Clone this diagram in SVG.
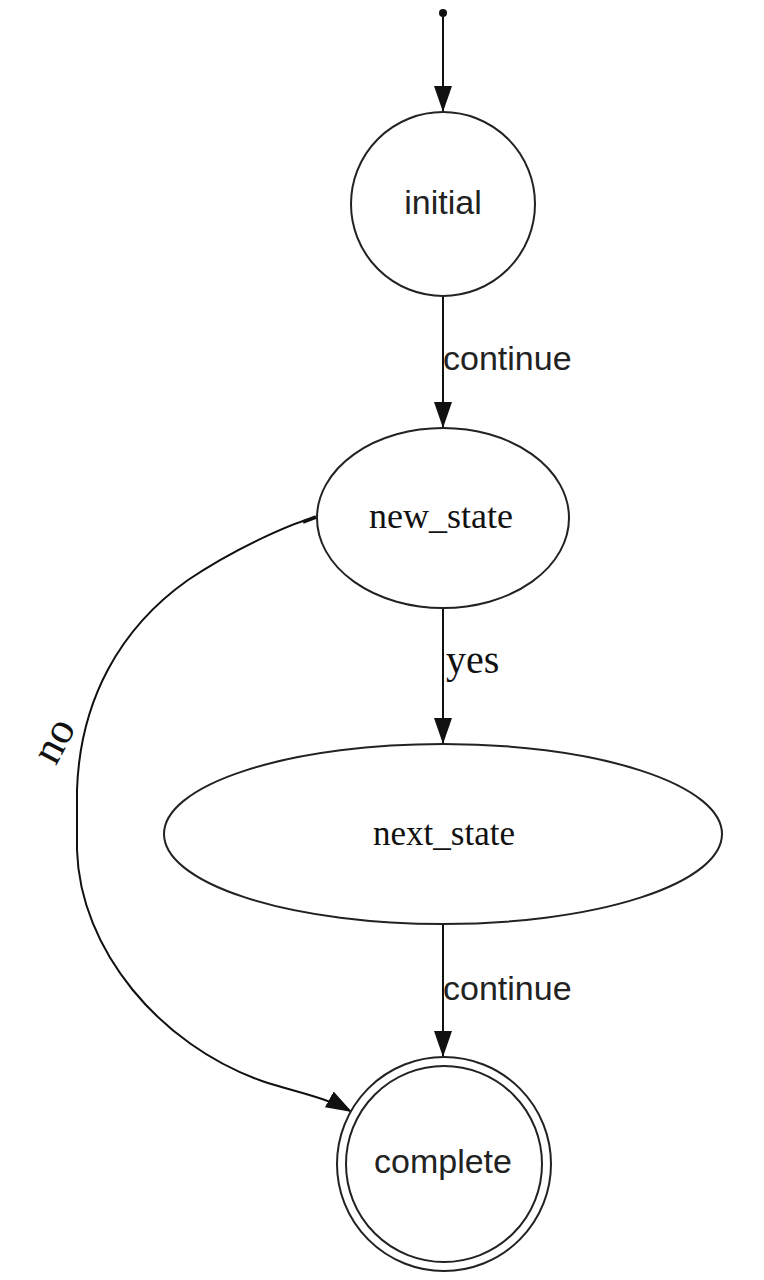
<svg xmlns="http://www.w3.org/2000/svg" width="764" height="1280" viewBox="0 0 764 1280">
<style>
.node{fill:#fff;stroke:#222;stroke-width:2}
.edge{fill:none;stroke:#111;stroke-width:2}
.sans{font-family:"Liberation Sans",Arial,sans-serif;font-size:34px;fill:#222}
.serif{font-family:"Liberation Serif","Times New Roman",serif;fill:#111}
</style>
<defs>
<marker id="arr" markerUnits="userSpaceOnUse" markerWidth="28" markerHeight="20" refX="26" refY="9" orient="auto">
<path d="M0,0 L26,9 L0,18 z" fill="#111"/>
</marker>
</defs>
<g id="connectors">
<circle cx="443" cy="13" r="4" fill="#111"/>
<line class="edge" x1="443" y1="13" x2="443" y2="112" marker-end="url(#arr)"/>
<line class="edge" x1="443" y1="297" x2="443" y2="428" marker-end="url(#arr)"/>
<text class="sans" x="443" y="370">continue</text>
<line class="edge" x1="443" y1="608" x2="443" y2="744" marker-end="url(#arr)"/>
<text class="serif" x="446" y="673" font-size="40">yes</text>
<line class="edge" x1="443" y1="924" x2="443" y2="1057" marker-end="url(#arr)"/>
<text class="sans" x="443" y="1000">continue</text>
<path class="edge" d="M315,518 C300,520 240,545 188,580 C120,628 80,700 77,790 L77,850 C80,950 160,1045 262,1081 C295,1092 325,1097 352,1112" marker-end="url(#arr)"/>
<path d="M303,522 L316,517" stroke="#111" stroke-width="3.5" fill="none"/>
<text class="serif" font-size="44" transform="translate(66,747) rotate(-62)" text-anchor="middle">no</text>
</g>
<g id="initial">
<circle class="node" cx="443" cy="204" r="92"/>
<text class="sans" x="443" y="214" text-anchor="middle">initial</text>
</g>
<g id="new_state">
<ellipse class="node" cx="443" cy="518" rx="126" ry="90"/>
<text class="serif" x="441" y="528" font-size="36" text-anchor="middle">new_state</text>
</g>
<g id="next_state">
<ellipse class="node" cx="443" cy="834" rx="279" ry="90"/>
<text class="serif" x="444" y="845" font-size="35" text-anchor="middle">next_state</text>
</g>
<g id="complete">
<circle class="node" cx="444" cy="1164" r="107"/>
<circle class="node" cx="444" cy="1164" r="98"/>
<text class="sans" x="443" y="1173" text-anchor="middle">complete</text>
</g>
</svg>
